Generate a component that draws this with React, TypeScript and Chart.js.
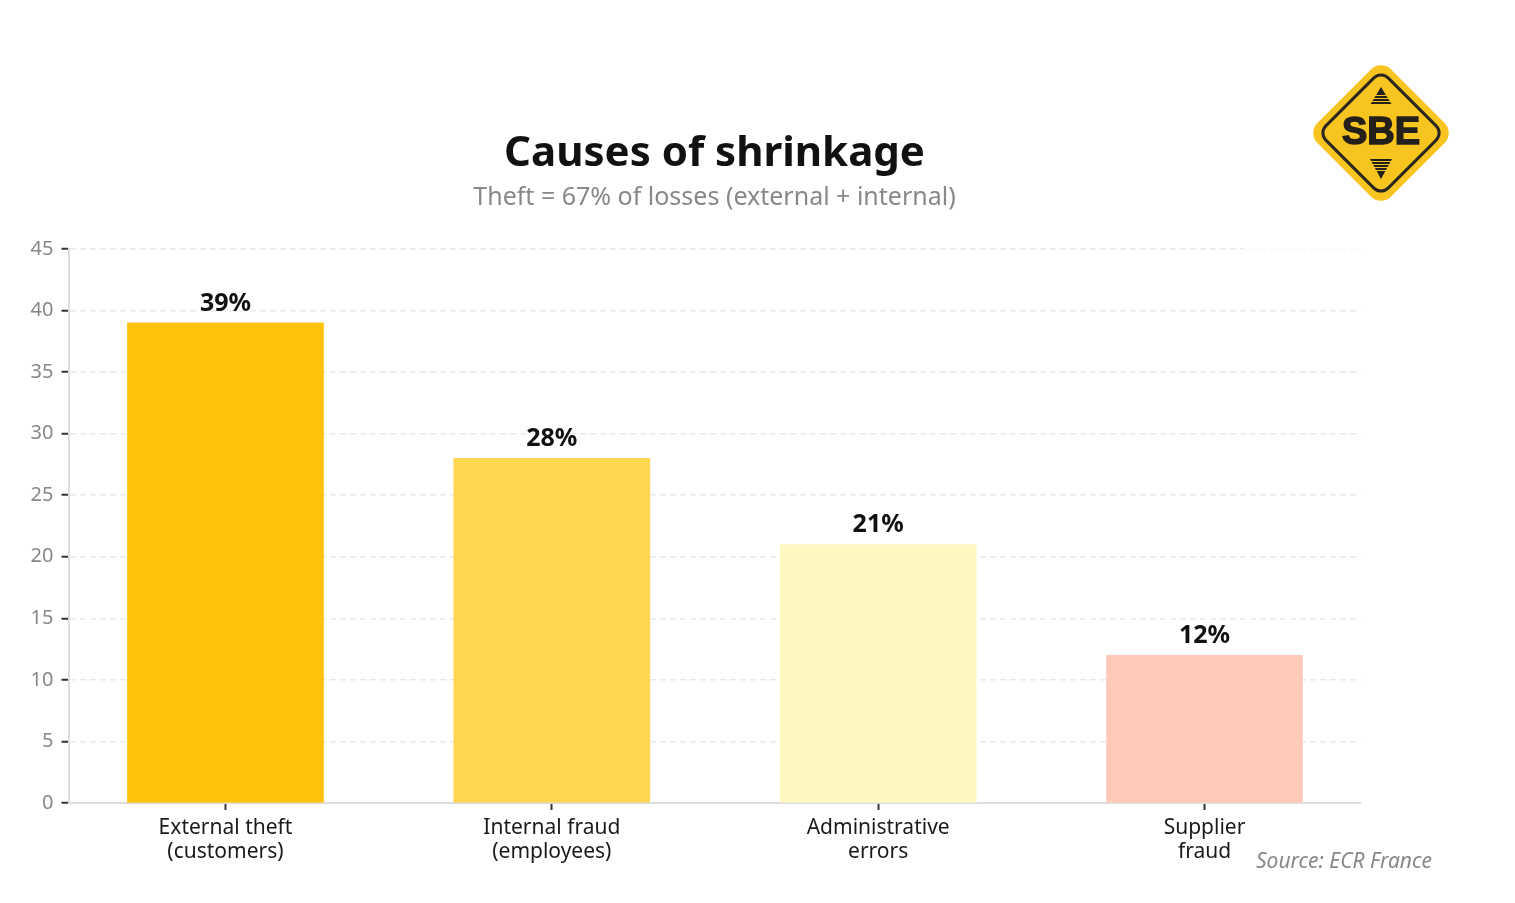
import React, { useEffect, useRef } from "react";
import { Chart, registerables } from "chart.js";

Chart.register(...registerables);

// Shrinkage causes (share of losses, %)
const categories: string[][] = [
  ["External theft", "(customers)"],
  ["Internal fraud", "(employees)"],
  ["Administrative", "errors"],
  ["Supplier", "fraud"],
];
const shares: number[] = [39, 28, 21, 12];
const barColors: string[] = ["#FEC20B", "#FED650", "#FFF8C3", "#FFCAB8"];

const titleText = "Causes of shrinkage";
const subtitleText = "Theft = 67% of losses (external + internal)";
const sourceText = "Source: ECR France";

const FONT = "'Noto Sans', 'Open Sans', sans-serif";

function drawLogo(ctx: CanvasRenderingContext2D, cx: number, cy: number) {
  ctx.save();
  // white backing behind the badge
  ctx.fillStyle = "#ffffff";
  ctx.fillRect(cx - 138, 20, 260, cy + 115 - 20 + 1);

  ctx.translate(cx, cy);
  ctx.save();
  ctx.rotate(Math.PI / 4);
  ctx.fillStyle = "#F8C41F";
  ctx.beginPath();
  ctx.roundRect(-52, -52, 104, 104, 14);
  ctx.fill();
  ctx.strokeStyle = "#2b2620";
  ctx.lineWidth = 3;
  ctx.beginPath();
  ctx.roundRect(-44, -44, 88, 88, 10);
  ctx.stroke();
  ctx.restore();

  ctx.fillStyle = "#231f1a";
  ctx.strokeStyle = "#231f1a";
  ctx.lineWidth = 1.5;
  ctx.font = `900 38px 'Liberation Sans', 'DejaVu Sans', sans-serif`;
  ctx.textAlign = "center";
  ctx.textBaseline = "middle";
  ctx.fillText("SBE", 0, 1);
  ctx.strokeText("SBE", 0, 1);

  // up arrow with stripes
  ctx.beginPath();
  ctx.moveTo(0, -46);
  ctx.lineTo(11, -28);
  ctx.lineTo(-11, -28);
  ctx.closePath();
  ctx.fill();
  // down arrow with stripes
  ctx.beginPath();
  ctx.moveTo(-11, 26);
  ctx.lineTo(11, 26);
  ctx.lineTo(0, 46);
  ctx.closePath();
  ctx.fill();
  ctx.strokeStyle = "#F8C41F";
  ctx.lineWidth = 1;
  for (let i = 0; i < 4; i++) {
    const yu = -38 + i * 3 + 0.5;
    ctx.beginPath();
    ctx.moveTo(-12, yu);
    ctx.lineTo(12, yu);
    ctx.stroke();
    const yd = 28 + i * 3 + 0.5;
    ctx.beginPath();
    ctx.moveTo(-12, yd);
    ctx.lineTo(12, yd);
    ctx.stroke();
  }
  ctx.restore();
}

const decorPlugin = {
  id: "decor",
  afterDraw(chart: any) {
    const { ctx, chartArea } = chart;
    const cx = (chartArea.left + chartArea.right) / 2;
    ctx.save();
    ctx.textAlign = "center";
    ctx.textBaseline = "alphabetic";
    ctx.fillStyle = "#111111";
    ctx.font = `bold 42px ${FONT}`;
    ctx.fillText(titleText, cx, 158);
    ctx.fillStyle = "#888888";
    ctx.font = `25px ${FONT}`;
    ctx.fillText(subtitleText, cx, 197);

    // value labels above the bars
    const meta = chart.getDatasetMeta(0);
    ctx.fillStyle = "#111111";
    ctx.font = `bold 25px ${FONT}`;
    meta.data.forEach((bar: any, i: number) => {
      ctx.fillText(`${shares[i]}%`, bar.x, bar.y - 12);
    });

    ctx.textAlign = "right";
    ctx.fillStyle = "#888888";
    ctx.font = `italic 21px ${FONT}`;
    ctx.fillText(sourceText, 1424, 860);
    ctx.restore();

    drawLogo(ctx, 1373, 125);
  },
};

export default function App() {
  const canvasRef = useRef<HTMLCanvasElement | null>(null);

  useEffect(() => {
    if (!canvasRef.current) return;
    const chart = new Chart(canvasRef.current, {
      type: "bar",
      data: {
        datasets: [
          {
            data: shares.map((v, i) => ({ x: i, y: v })),
            backgroundColor: barColors,
            borderWidth: 0,
            barThickness: 196,
          },
        ],
      },
      options: {
        animation: false,
        responsive: true,
        maintainAspectRatio: false,
        layout: { padding: { top: 241, right: 146.5, left: 0, bottom: 0 } },
        plugins: {
          legend: { display: false },
          tooltip: { enabled: false },
        },
        scales: {
          x: {
            type: "linear",
            min: -0.481,
            max: 3.478,
            offset: false,
            afterBuildTicks: (scale: any) => {
              scale.ticks = categories.map((_, i) => ({ value: i }));
            },
            afterFit: (scale: any) => {
              scale.height = 92;
            },
            grid: {
              offset: false,
              drawOnChartArea: false,
              drawTicks: true,
              tickLength: 7,
              tickWidth: 2,
              tickColor: "#333333",
            },
            border: { color: "#dddddd", width: 2 },
            ticks: {
              autoSkip: false,
              maxRotation: 0,
              padding: 6,
              color: "#1a1a1a",
              font: { family: FONT, size: 21, lineHeight: 1.15 },
              callback: (v: any) => categories[Math.round(Number(v))] ?? "",
            },
          },
          y: {
            min: 0,
            max: 45,
            afterFit: (scale: any) => {
              scale.width = 60.5;
            },
            grid: {
              color: "#e9e9e9",
              lineWidth: 1.5,
              drawTicks: true,
              tickLength: 7,
              tickWidth: 2,
              tickColor: "#333333",
            },
            border: { color: "#dddddd", width: 2, dash: [6, 4] },
            ticks: {
              stepSize: 5,
              padding: 8,
              color: "#888888",
              font: { family: FONT, size: 20 },
            },
          },
        },
      },
      plugins: [decorPlugin],
    });
    return () => chart.destroy();
  }, []);

  return (
    <div style={{ position: "relative", width: "1499px", height: "887px", background: "#ffffff" }}>
      <canvas ref={canvasRef} />
    </div>
  );
}
